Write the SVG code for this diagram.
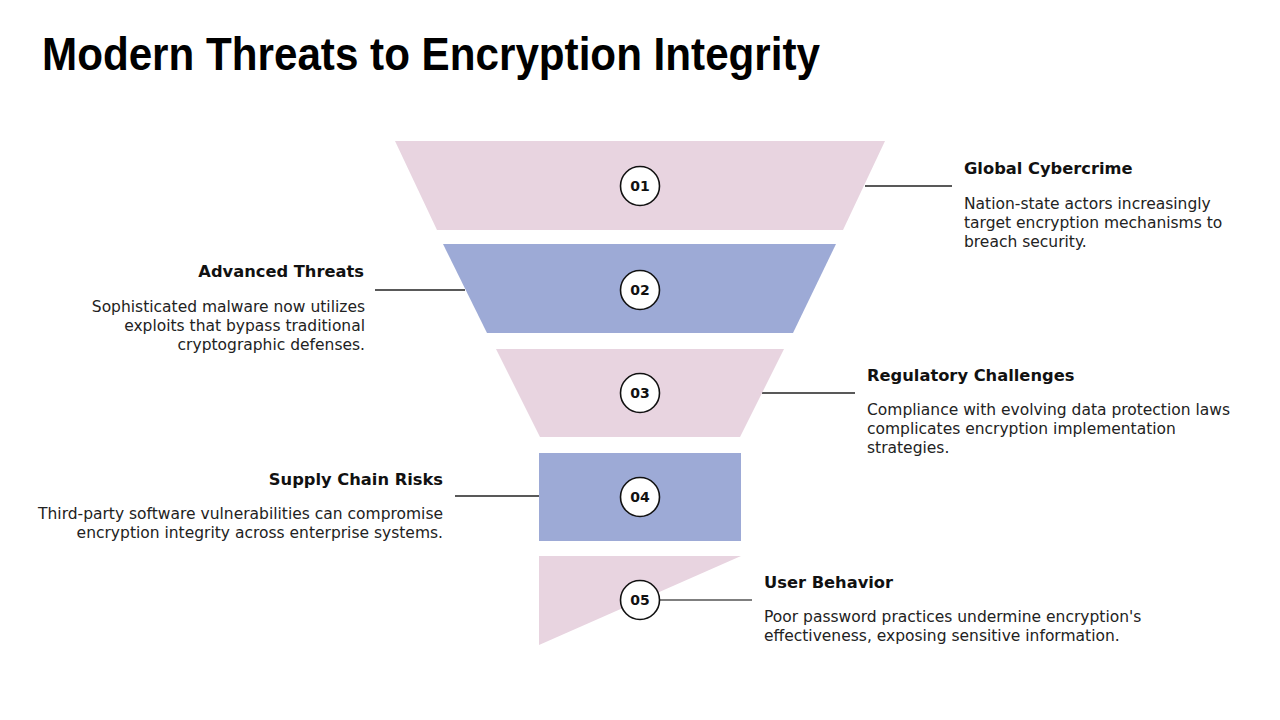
<svg xmlns="http://www.w3.org/2000/svg" width="1280" height="720" viewBox="0 0 1280 720">
<style>
.pink{fill:#E8D4E0}
.blue{fill:#9DAAD6}
.num{fill:#fff;stroke:#111;stroke-width:1.6}
.numt{font-family:"DejaVu Sans",sans-serif;font-weight:bold;font-size:14px;fill:#111;text-anchor:middle}
.head{font-family:"DejaVu Sans",sans-serif;font-weight:bold;font-size:16.3px;fill:#111}
.body{font-family:"DejaVu Sans",sans-serif;font-size:15.5px;fill:#222}
.r{text-anchor:end}
.conn{stroke:#222;stroke-width:1.5;fill:none}
</style>
<rect width="1280" height="720" fill="#fff"/>
<text x="42" y="70" font-family="Liberation Sans, Arial, sans-serif" font-weight="bold" font-size="46" fill="#000" textLength="778" lengthAdjust="spacingAndGlyphs">Modern Threats to Encryption Integrity</text>

<g id="connectors">
<line class="conn" x1="865" y1="186" x2="952" y2="186"/>
<line class="conn" x1="375" y1="290" x2="465" y2="290"/>
<line class="conn" x1="762" y1="393" x2="855" y2="393"/>
<line class="conn" x1="455" y1="496" x2="539" y2="496"/>
<line class="conn" x1="660" y1="600" x2="752" y2="600" style="stroke:#555"/>
</g>

<g id="node1">
<polygon class="pink" points="395,141 885,141 843,230 437,230"/>
<circle class="num" cx="640" cy="186" r="19.5"/>
<text class="numt" x="640" y="191">01</text>
<text class="head" x="964" y="174">Global Cybercrime</text>
<text class="body" x="964" y="209">Nation-state actors increasingly</text>
<text class="body" x="964" y="228">target encryption mechanisms to</text>
<text class="body" x="964" y="247">breach security.</text>
</g>

<g id="node2">
<polygon class="blue" points="443,244 836,244 793,333 487,333"/>
<circle class="num" cx="640" cy="290" r="19.5"/>
<text class="numt" x="640" y="295">02</text>
<text class="head r" x="364" y="277">Advanced Threats</text>
<text class="body r" x="365" y="312">Sophisticated malware now utilizes</text>
<text class="body r" x="365" y="331">exploits that bypass traditional</text>
<text class="body r" x="365" y="350">cryptographic defenses.</text>
</g>

<g id="node3">
<polygon class="pink" points="496,349 784,349 740,437 540,437"/>
<circle class="num" cx="640" cy="393" r="19.5"/>
<text class="numt" x="640" y="398">03</text>
<text class="head" x="867" y="381">Regulatory Challenges</text>
<text class="body" x="867" y="415">Compliance with evolving data protection laws</text>
<text class="body" x="867" y="434">complicates encryption implementation</text>
<text class="body" x="867" y="453">strategies.</text>
</g>

<g id="node4">
<rect class="blue" x="539" y="453" width="202" height="88"/>
<circle class="num" cx="640" cy="497" r="19.5"/>
<text class="numt" x="640" y="502">04</text>
<text class="head r" x="443" y="485">Supply Chain Risks</text>
<text class="body r" x="443" y="519">Third-party software vulnerabilities can compromise</text>
<text class="body r" x="443" y="538">encryption integrity across enterprise systems.</text>
</g>

<g id="node5">
<polygon class="pink" points="539,556 741,556 539,645"/>
<circle class="num" cx="640" cy="600" r="19.5"/>
<text class="numt" x="640" y="605">05</text>
<text class="head" x="764" y="588">User Behavior</text>
<text class="body" x="764" y="622">Poor password practices undermine encryption's</text>
<text class="body" x="764" y="641">effectiveness, exposing sensitive information.</text>
</g>
</svg>
